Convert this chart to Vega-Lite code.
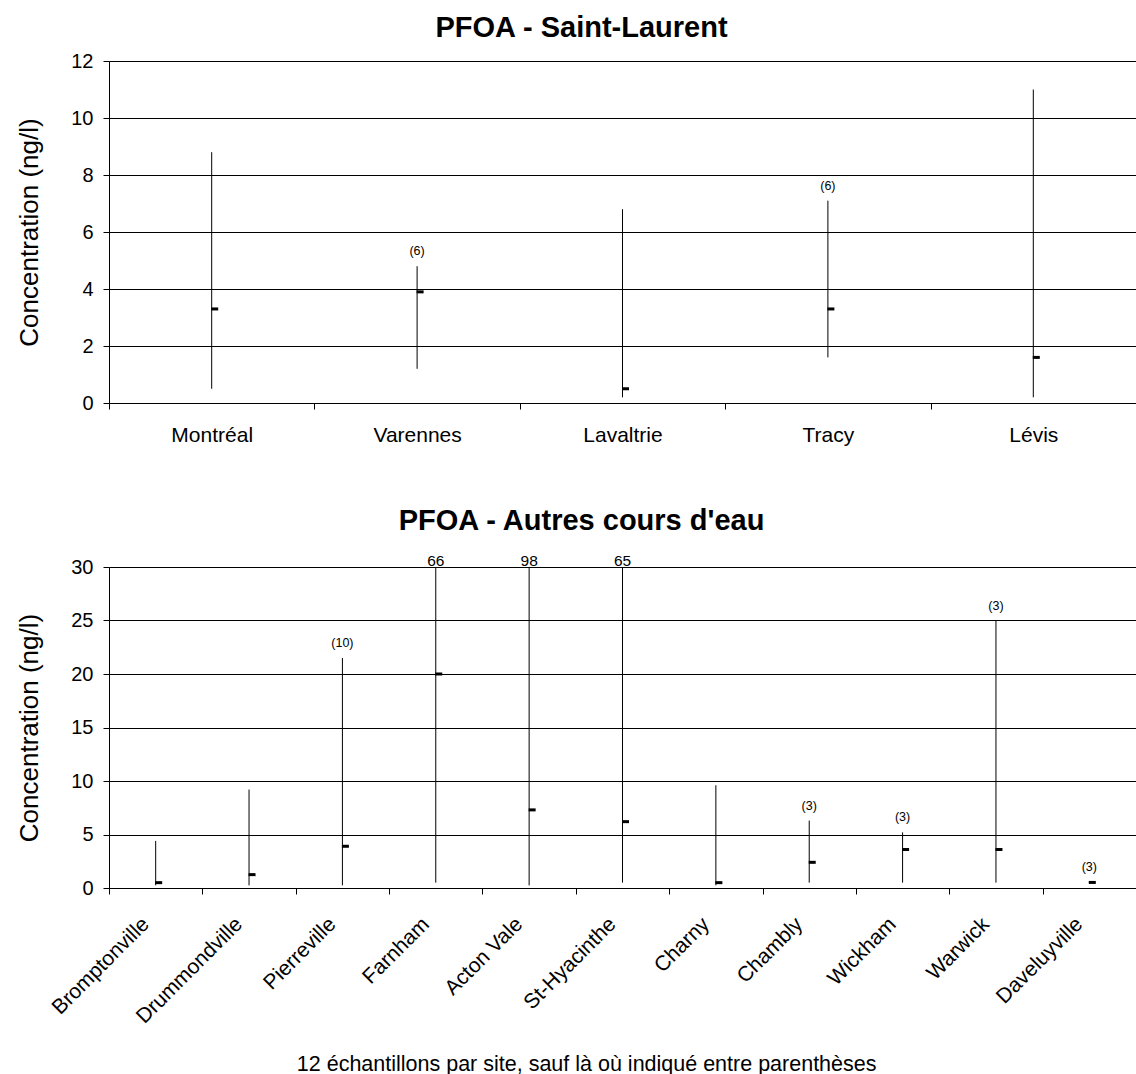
{
  "$schema": "https://vega.github.io/schema/vega-lite/v6.json",
  "background": "white",
  "padding": {"left": 16, "top": 14, "right": 0, "bottom": 4},
  "config": {
    "font": "Liberation Sans",
    "view": {"stroke": null},
    "axis": {
      "labelFont": "Liberation Sans",
      "titleFont": "Liberation Sans",
      "labelColor": "black",
      "titleColor": "black",
      "domainColor": "black",
      "tickColor": "black",
      "gridColor": "black",
      "gridWidth": 1,
      "domainWidth": 1,
      "tickWidth": 1
    },
    "title": {"font": "Liberation Sans", "color": "black"}
  },
  "title": {
    "text": "12 échantillons par site, sauf là où indiqué entre parenthèses",
    "orient": "bottom",
    "fontSize": 21.5,
    "fontWeight": "normal",
    "anchor": "middle",
    "offset": 27,
    "dx": 10
  },
  "spacing": 62,
  "vconcat": [
    {
      "title": {"text": "PFOA - Saint-Laurent", "fontSize": 29, "fontWeight": "bold", "anchor": "middle", "offset": 8, "dx": -41},
      "width": 1027,
      "height": 342,
      "data": {
        "values": [
          {"site": "Montréal", "min": 0.5, "max": 8.8, "median": 3.3, "note": null},
          {"site": "Varennes", "min": 1.2, "max": 4.8, "median": 3.9, "note": "(6)"},
          {"site": "Lavaltrie", "min": 0.2, "max": 6.8, "median": 0.5, "note": null},
          {"site": "Tracy", "min": 1.6, "max": 7.1, "median": 3.3, "note": "(6)"},
          {"site": "Lévis", "min": 0.2, "max": 11.0, "median": 1.6, "note": null}
        ]
      },
      "encoding": {
        "x": {
          "field": "site",
          "type": "nominal",
          "sort": null,
          "scale": {"paddingInner": 0, "paddingOuter": 0},
          "axis": {"title": null, "labelAngle": 0, "labelFontSize": 21, "tickBand": "extent", "tickSize": 6, "labelPadding": 15, "grid": false}
        }
      },
      "layer": [
        {
          "mark": {"type": "rule", "color": "black", "strokeWidth": 1},
          "encoding": {
            "y": {
              "field": "min",
              "type": "quantitative",
              "scale": {"domain": [0, 12], "clamp": true, "nice": false},
              "axis": {"title": "Concentration (ng/l)", "titleFontSize": 26, "titleFontWeight": "normal", "labelFontSize": 20, "values": [0, 2, 4, 6, 8, 10, 12], "grid": true, "tickSize": 6, "labelPadding": 10, "titlePadding": 28}
            },
            "y2": {"field": "max"}
          }
        },
        {
          "mark": {"type": "tick", "color": "black", "opacity": 1, "size": 7, "thickness": 3, "xOffset": 3},
          "encoding": {"y": {"field": "median", "type": "quantitative"}}
        },
        {
          "transform": [{"filter": "datum.note != null"}],
          "mark": {"type": "text", "fontSize": 12.5, "baseline": "alphabetic", "dy": -11, "color": "black"},
          "encoding": {"y": {"field": "max", "type": "quantitative"}, "text": {"field": "note"}}
        }
      ]
    },
    {
      "title": {"text": "PFOA - Autres cours d'eau", "fontSize": 29, "fontWeight": "bold", "anchor": "middle", "offset": 18, "dx": -41},
      "width": 1027,
      "height": 321,
      "data": {
        "values": [
          {"site": "Bromptonville", "min": 0.25, "max": 4.4, "median": 0.5, "note": null},
          {"site": "Drummondville", "min": 0.25, "max": 9.2, "median": 1.25, "note": null},
          {"site": "Pierreville", "min": 0.25, "max": 21.5, "median": 3.9, "note": "(10)"},
          {"site": "Farnham", "min": 0.5, "max": 66, "median": 20.0, "note": null},
          {"site": "Acton Vale", "min": 0.25, "max": 98, "median": 7.3, "note": null},
          {"site": "St-Hyacinthe", "min": 0.5, "max": 65, "median": 6.2, "note": null},
          {"site": "Charny", "min": 0.25, "max": 9.6, "median": 0.5, "note": null},
          {"site": "Chambly", "min": 0.5, "max": 6.3, "median": 2.4, "note": "(3)"},
          {"site": "Wickham", "min": 0.5, "max": 5.2, "median": 3.6, "note": "(3)"},
          {"site": "Warwick", "min": 0.5, "max": 25, "median": 3.6, "note": "(3)"},
          {"site": "Daveluyville", "min": 0.5, "max": 0.6, "median": 0.52, "note": "(3)"}
        ]
      },
      "encoding": {
        "x": {
          "field": "site",
          "type": "nominal",
          "sort": null,
          "scale": {"paddingInner": 0, "paddingOuter": 0},
          "axis": {"title": null, "labelAngle": -45, "labelFontSize": 21, "tickBand": "extent", "tickSize": 6, "labelPadding": 19, "labelOffset": -18, "grid": false}
        }
      },
      "layer": [
        {
          "mark": {"type": "rule", "color": "black", "strokeWidth": 1},
          "encoding": {
            "y": {
              "field": "min",
              "type": "quantitative",
              "scale": {"domain": [0, 30], "clamp": true, "nice": false},
              "axis": {"title": "Concentration (ng/l)", "titleFontSize": 26, "titleFontWeight": "normal", "labelFontSize": 20, "values": [0, 5, 10, 15, 20, 25, 30], "grid": true, "tickSize": 6, "labelPadding": 10, "titlePadding": 28}
            },
            "y2": {"field": "max"}
          }
        },
        {
          "mark": {"type": "tick", "color": "black", "opacity": 1, "size": 7, "thickness": 3, "xOffset": 3},
          "encoding": {"y": {"field": "median", "type": "quantitative"}}
        },
        {
          "transform": [{"filter": "datum.note != null"}],
          "mark": {"type": "text", "fontSize": 12.5, "baseline": "alphabetic", "dy": -11, "color": "black"},
          "encoding": {"y": {"field": "max", "type": "quantitative"}, "text": {"field": "note"}}
        },
        {
          "transform": [{"filter": "datum.max > 30"}],
          "mark": {"type": "text", "fontSize": 15.5, "baseline": "alphabetic", "dy": -1, "color": "black"},
          "encoding": {"y": {"field": "max", "type": "quantitative"}, "text": {"field": "max", "type": "quantitative"}}
        }
      ]
    }
  ]
}
